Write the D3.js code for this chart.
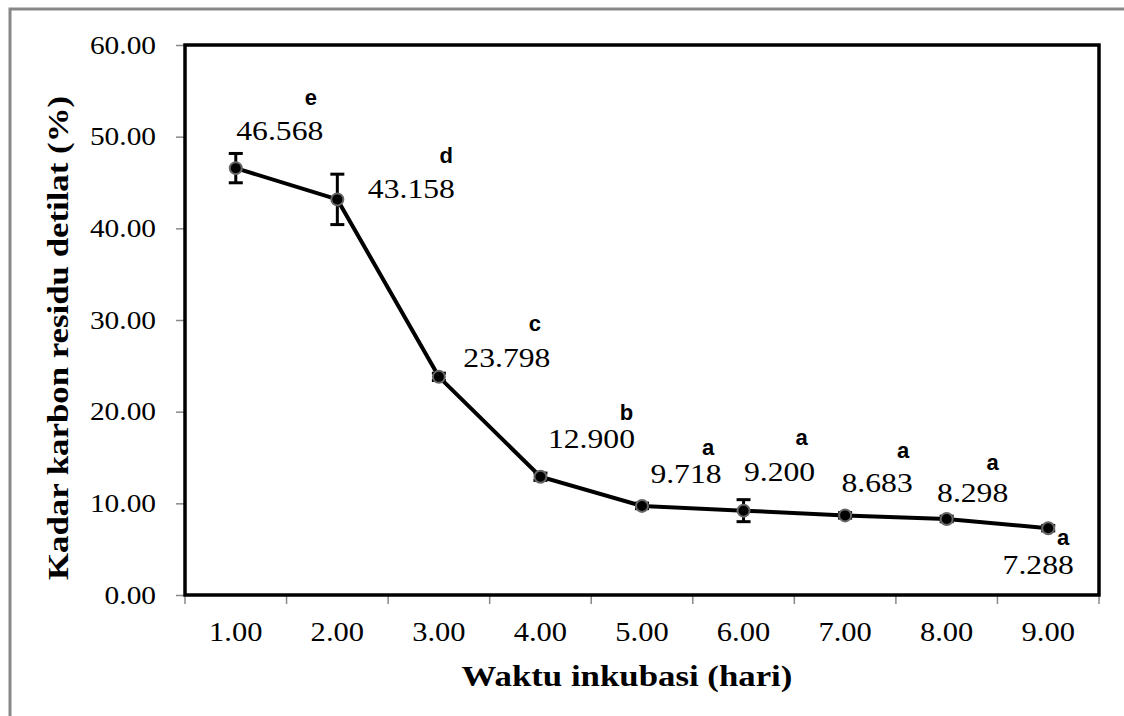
<!DOCTYPE html>
<html lang="en">
<head>
<meta charset="utf-8">
<title>Kadar karbon residu detilat</title>
<script src="https://cdn.jsdelivr.net/npm/d3@7"></script>
<style>
  body { margin: 0; background: #fff; }
  svg text.serif { font-family: "Liberation Serif", "Times New Roman", serif; }
  svg text.sans { font-family: "Liberation Sans", Arial, sans-serif; font-weight: bold; }
</style>
</head>
<body>
<script>
// data
var days = ["1.00", "2.00", "3.00", "4.00", "5.00", "6.00", "7.00", "8.00", "9.00"];
var carbon = [46.568, 43.158, 23.798, 12.900, 9.718, 9.200, 8.683, 8.298, 7.288];
var errors = [1.6, 2.75, 0.4, 0.4, 0.3, 1.2, 0.3, 0.3, 0.3];
var letters = ["e", "d", "c", "b", "a", "a", "a", "a", "a"];
var yTicks = [0, 10, 20, 30, 40, 50, 60];

// label offsets from each point (pixels): value label, then letter
var valueOffset = [[44, -38], [74, -11], [68, -20], [51, -39], [44, -33], [36, -39], [32, -33], [26, -27], [-10, 36]];
var letterOffset = [[75, -71], [109, -44], [96, -54], [86, -64], [66, -59], [58, -73], [58, -65], [46, -57], [15, 9]];

var w = 1124, h = 716;
var plotL = 185, plotR = 1099, plotT = 45, plotB = 595;

// the original text is a little wider than the font, stretch it
function stretch(sel, k) {
  sel.each(function() {
    var len = this.getComputedTextLength();
    d3.select(this).attr("textLength", len * k).attr("lengthAdjust", "spacingAndGlyphs");
  });
}

var svg = d3.select("body").append("svg")
  .attr("width", w)
  .attr("height", h);

// outer frame
svg.append("rect")
  .attr("x", 10).attr("y", 9)
  .attr("width", w + 20).attr("height", h + 20)
  .attr("fill", "none")
  .attr("stroke", "#888")
  .attr("stroke-width", 3);

var x = d3.scaleBand().domain(days).range([plotL, plotR]).padding(0);
var y = d3.scaleLinear().domain([0, 60]).range([plotB, plotT]);
var cx = function(d, i) { return x(days[i]) + x.bandwidth() / 2; };

// y axis
var yAxis = svg.append("g")
  .attr("transform", "translate(" + plotL + ",0)")
  .call(d3.axisLeft(y).tickValues(yTicks).tickFormat(d3.format(".2f")).tickSize(9).tickPadding(20));
yAxis.select(".domain").remove();
yAxis.selectAll(".tick line").attr("stroke", "#888").attr("stroke-width", 1.5);
yAxis.selectAll(".tick text")
  .attr("class", "serif")
  .attr("font-size", 26)
  .attr("fill", "#000")
  .call(stretch, 1.13);

// x axis: ticks between categories, labels at centres
var edges = days.map(function(d) { return x(d); }).concat([plotR]);
svg.selectAll(".xtick").data(edges).enter().append("line")
  .attr("class", "xtick")
  .attr("x1", function(d) { return d; }).attr("x2", function(d) { return d; })
  .attr("y1", plotB).attr("y2", plotB + 9)
  .attr("stroke", "#888").attr("stroke-width", 1.5);

svg.selectAll(".xlabel").data(days).enter().append("text")
  .attr("class", "serif")
  .attr("x", cx)
  .attr("y", plotB + 46)
  .attr("text-anchor", "middle")
  .attr("font-size", 27)
  .text(function(d) { return d; })
  .call(stretch, 1.13);

// plot frame
svg.append("rect")
  .attr("x", plotL).attr("y", plotT)
  .attr("width", plotR - plotL).attr("height", plotB - plotT)
  .attr("fill", "none")
  .attr("stroke", "#000")
  .attr("stroke-width", 3.5);

// axis titles
svg.append("text")
  .attr("class", "serif")
  .attr("x", 627).attr("y", 686)
  .attr("text-anchor", "middle")
  .attr("font-weight", "bold")
  .attr("font-size", 30)
  .text("Waktu inkubasi (hari)")
  .call(stretch, 1.16);

svg.append("text")
  .attr("class", "serif")
  .attr("transform", "translate(68,338) rotate(-90)")
  .attr("text-anchor", "middle")
  .attr("font-weight", "bold")
  .attr("font-size", 30)
  .text("Kadar karbon residu detilat (%)")
  .call(stretch, 1.16);

// line
var line = d3.line()
  .x(function(d, i) { return cx(d, i); })
  .y(function(d) { return y(d); });

svg.append("path")
  .datum(carbon)
  .attr("d", line)
  .attr("fill", "none")
  .attr("stroke", "#000")
  .attr("stroke-width", 4);

// error bars
var eb = svg.selectAll(".err").data(carbon).enter().append("g").attr("class", "err");
eb.append("line")
  .attr("x1", cx).attr("x2", cx)
  .attr("y1", function(d, i) { return y(d + errors[i]); })
  .attr("y2", function(d, i) { return y(d - errors[i]); })
  .attr("stroke", "#000").attr("stroke-width", 3);
[1, -1].forEach(function(s) {
  eb.append("line")
    .attr("x1", function(d, i) { return cx(d, i) - 7; })
    .attr("x2", function(d, i) { return cx(d, i) + 7; })
    .attr("y1", function(d, i) { return y(d + s * errors[i]); })
    .attr("y2", function(d, i) { return y(d + s * errors[i]); })
    .attr("stroke", "#000").attr("stroke-width", 3);
});

// markers
svg.selectAll(".pt").data(carbon).enter().append("circle")
  .attr("class", "pt")
  .attr("cx", cx)
  .attr("cy", function(d) { return y(d); })
  .attr("r", 6)
  .attr("fill", "#000")
  .attr("stroke", "#666")
  .attr("stroke-width", 2);

// value labels
svg.selectAll(".val").data(carbon).enter().append("text")
  .attr("class", "serif")
  .attr("x", function(d, i) { return cx(d, i) + valueOffset[i][0]; })
  .attr("y", function(d, i) { return y(d) + valueOffset[i][1]; })
  .attr("dy", "0.35em")
  .attr("text-anchor", "middle")
  .attr("font-size", 28)
  .text(function(d) { return d3.format(".3f")(d); })
  .call(stretch, 1.13);

// significance letters
svg.selectAll(".let").data(carbon).enter().append("text")
  .attr("class", "sans")
  .attr("x", function(d, i) { return cx(d, i) + letterOffset[i][0]; })
  .attr("y", function(d, i) { return y(d) + letterOffset[i][1]; })
  .attr("dy", "0.35em")
  .attr("text-anchor", "middle")
  .attr("font-size", 22)
  .text(function(d, i) { return letters[i]; });
</script>
</body>
</html>
